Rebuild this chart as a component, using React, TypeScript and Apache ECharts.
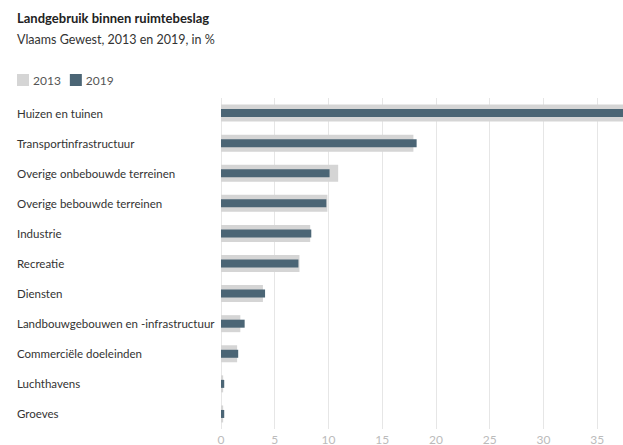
import React, { useEffect, useRef } from "react";
import * as echarts from "echarts";

const categories = [
  "Huizen en tuinen",
  "Transportinfrastructuur",
  "Overige onbebouwde terreinen",
  "Overige bebouwde terreinen",
  "Industrie",
  "Recreatie",
  "Diensten",
  "Landbouwgebouwen en -infrastructuur",
  "Commerciële doeleinden",
  "Luchthavens",
  "Groeves",
];
const values2013 = [38.5, 17.9, 10.9, 9.9, 8.3, 7.3, 3.9, 1.8, 1.5, 0.2, 0.2];
const values2019 = [39.0, 18.2, 10.1, 9.8, 8.4, 7.2, 4.1, 2.2, 1.6, 0.3, 0.3];
const seriesNames = ["2013", "2019"];

const FONT = "Lato, 'Open Sans', sans-serif";

export default function App() {
  const ref = useRef<HTMLDivElement>(null);
  useEffect(() => {
    document.body.style.margin = "0";
    const chart = echarts.init(ref.current!, undefined, { renderer: "svg" });
    chart.setOption({
      animation: false,
      backgroundColor: "#ffffff",
      textStyle: { fontFamily: FONT },
      title: {
        text: "Landgebruik binnen ruimtebeslag",
        subtext: "Vlaams Gewest, 2013 en 2019, in %",
        left: 17,
        top: 11,
        padding: 0,
        itemGap: 9,
        textStyle: { fontFamily: FONT, fontSize: 13, fontWeight: "bold", color: "#222" },
        subtextStyle: { fontFamily: FONT, fontSize: 12.5, color: "#333" },
      },
      legend: {
        data: seriesNames,
        left: 17,
        top: 74,
        padding: 0,
        icon: "rect",
        itemWidth: 12,
        itemHeight: 12,
        itemGap: 9,
        textStyle: { fontFamily: FONT, fontSize: 12, color: "#555", padding: [0, 0, 0, -1] },
      },
      grid: { left: 221, right: 0, top: 98, bottom: 14, containLabel: false },
      xAxis: {
        type: "value",
        min: 0,
        max: 37.4,
        interval: 5,
        axisLine: { show: false },
        axisTick: { show: false },
        splitLine: { show: true, lineStyle: { color: "#e6e6e6", width: 1 } },
        axisLabel: {
          fontFamily: FONT,
          fontSize: 12,
          color: "#bbb",
          margin: 4,
          showMaxLabel: false,
        },
      },
      yAxis: [
        {
          type: "category",
          data: categories,
          inverse: true,
          axisLine: { show: false },
          axisTick: { show: false },
          axisLabel: {
            fontFamily: FONT,
            fontSize: 11.5,
            color: "#333",
            align: "left",
            margin: 204,
          },
        },
        {
          type: "category",
          data: categories,
          inverse: true,
          show: false,
        },
      ],
      series: [
        {
          name: seriesNames[0],
          type: "bar",
          yAxisIndex: 0,
          data: values2013,
          barWidth: 17,
          itemStyle: { color: "#d5d5d5" },
        },
        {
          name: seriesNames[1],
          type: "bar",
          yAxisIndex: 1,
          data: values2019,
          barWidth: 8,
          itemStyle: { color: "#4b6575" },
        },
      ],
    });
    return () => chart.dispose();
  }, []);
  return <div ref={ref} style={{ width: 623, height: 445 }} />;
}
